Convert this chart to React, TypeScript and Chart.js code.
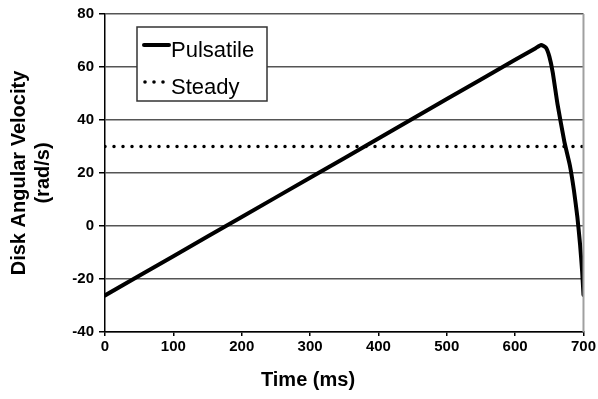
import React, { useEffect, useRef } from "react";
import { Chart, registerables } from "chart.js";

Chart.register(...registerables);

const FONT = "'Liberation Sans', Arial, Helvetica, sans-serif";

const pulsatileTime = [0, 100, 200, 300, 400, 500, 600, 630, 638, 645, 650, 655, 662, 672, 680, 686, 691, 695, 698, 700];
const pulsatileVel = [-26.2, -11.4, 3.4, 18.2, 33.0, 47.9, 62.7, 67.1, 68.3, 67.3, 64, 58, 46, 31.8, 23, 13.5, 3.5, -7, -17, -26];
const steadyTime = [0, 700];
const steadyVel = [30, 30];

const seriesLabels = ["Pulsatile", "Steady"];
const xTitle = "Time (ms)";
const yTitle = ["Disk Angular Velocity", "(rad/s)"];
const xMin = 0, xMax = 700, xStep = 100;
const yMin = -40, yMax = 80, yStep = 20;

const overlayPlugin = {
  id: "overlay",
  afterDraw(chart: any) {
    const { ctx, chartArea } = chart;
    ctx.save();
    // right border
    ctx.strokeStyle = "#a0a0a0";
    ctx.lineWidth = 2;
    ctx.beginPath();
    ctx.moveTo(chartArea.right, chartArea.top);
    ctx.lineTo(chartArea.right, chartArea.bottom);
    ctx.stroke();

    // legend box
    const bx = 137, by = 27, bw = 130, bh = 74;
    ctx.fillStyle = "#ffffff";
    ctx.fillRect(bx, by, bw, bh);
    ctx.strokeStyle = "#333";
    ctx.lineWidth = 1.5;
    ctx.strokeRect(bx, by, bw, bh);

    ctx.strokeStyle = "#000";
    ctx.lineWidth = 4;
    ctx.lineCap = "round";
    ctx.beginPath();
    ctx.moveTo(144, 45);
    ctx.lineTo(169, 45);
    ctx.stroke();

    ctx.fillStyle = "#000";
    for (const dx of [145, 154, 163]) {
      ctx.beginPath();
      ctx.arc(dx, 82, 1.8, 0, Math.PI * 2);
      ctx.fill();
    }

    ctx.font = `22px ${FONT}`;
    ctx.textAlign = "left";
    ctx.textBaseline = "alphabetic";
    ctx.fillText(chart.data.datasets[0].label, 171, 57);
    ctx.fillText(chart.data.datasets[1].label, 171, 94);

    // axis titles
    ctx.font = `bold 20px ${FONT}`;
    ctx.textAlign = "center";
    ctx.textBaseline = "middle";
    ctx.fillText(xTitle, 308, 380);

    ctx.translate(0, 173);
    ctx.rotate(-Math.PI / 2);
    ctx.fillText(yTitle[0], 0, 19);
    ctx.fillText(yTitle[1], 0, 43);
    ctx.restore();
  },
};

export default function App() {
  const ref = useRef<HTMLCanvasElement>(null);
  useEffect(() => {
    if (!ref.current) return;
    Chart.defaults.font.family = FONT;
    const chart = new Chart(ref.current, {
      type: "line",
      data: {
        datasets: [
          {
            label: seriesLabels[0],
            data: pulsatileTime.map((t, i) => ({ x: t, y: pulsatileVel[i] })),
            borderColor: "#000",
            borderWidth: 4,
            pointRadius: 0,
            borderJoinStyle: "round",
            borderCapStyle: "round",
            tension: 0.15,
            fill: false,
          },
          {
            label: seriesLabels[1],
            data: steadyTime.map((t, i) => ({ x: t, y: steadyVel[i] })),
            borderColor: "#000",
            borderWidth: 3.5,
            borderDash: [0, 9],
            borderCapStyle: "round",
            pointRadius: 0,
            fill: false,
          },
        ],
      },
      options: {
        responsive: false,
        animation: false,
        layout: { padding: { top: 11, right: 14, left: 0, bottom: 0 } },
        plugins: { legend: { display: false }, tooltip: { enabled: false } },
        scales: {
          x: {
            type: "linear",
            min: xMin,
            max: xMax,
            ticks: { stepSize: xStep, color: "#000", font: { size: 15, weight: "bold" }, padding: 2, maxRotation: 0 },
            grid: { drawOnChartArea: false, drawTicks: true, tickLength: 4, color: "#000", lineWidth: 1.5 },
            border: { color: "#000", width: 1.5 },
            afterFit: (s: any) => { s.height = 67; },
          },
          y: {
            min: yMin,
            max: yMax,
            ticks: { stepSize: yStep, color: "#000", font: { size: 15, weight: "bold" }, padding: 5 },
            grid: { color: "#555", lineWidth: 1.5, tickLength: 6, tickColor: "#000" },
            border: { color: "#000", width: 1.5 },
            afterFit: (s: any) => { s.width = 105; },
          },
        },
      },
      plugins: [overlayPlugin],
    } as any);
    return () => chart.destroy();
  }, []);
  return (
    <div style={{ position: "absolute", left: 0, top: 0, width: 598, height: 399, background: "#fff" }}>
      <canvas ref={ref} width={598} height={399} />
    </div>
  );
}
